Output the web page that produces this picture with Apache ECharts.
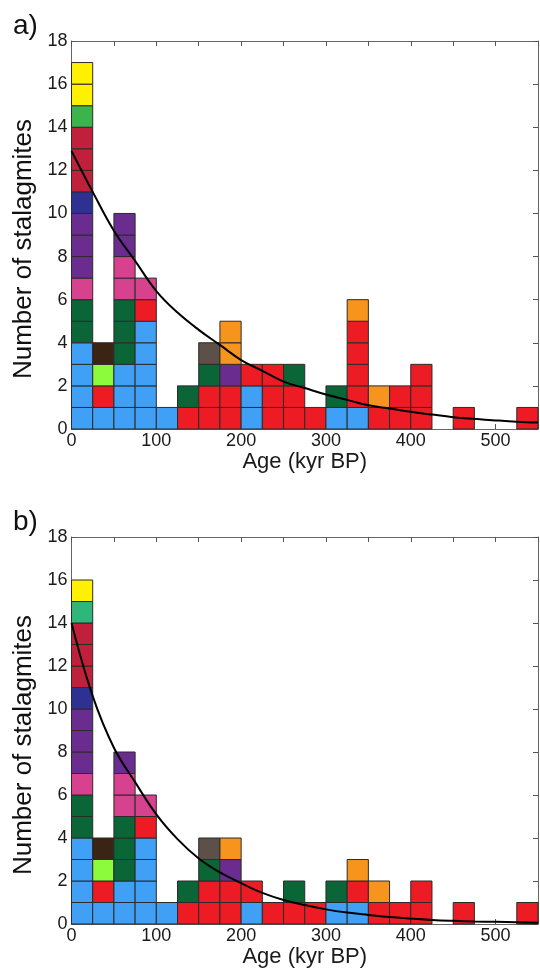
<!DOCTYPE html>
<html>
<head>
<meta charset="utf-8">
<title>Stalagmite ages</title>
<script src="https://cdn.jsdelivr.net/npm/echarts@6/dist/echarts.min.js"></script>
<style>
  html, body { margin: 0; padding: 0; background: #fff; }
  #chart { width: 540px; height: 973px; }
</style>
</head>
<body>
<div id="chart"></div>
<script>
// 25 kyr bins from 0 to 550 kyr BP
const binWidth = 25;
const binStarts = [0, 25, 50, 75, 100, 125, 150, 175, 200, 225, 250, 275,
  300, 325, 350, 375, 400, 425, 450, 475, 500, 525];

// one letter per stalagmite, bottom to top of each bin
const cellsA = ['bbbbggpvvvnccceyy', 'brlk', 'bbbgggppvv', 'bbbbbrp', 'b', 'rg',
  'rrgt', 'rrvoo', 'bbr', 'rrr', 'rrg', 'r', 'bg', 'brrrro', 'ro', 'rr', 'rrr',
  '', 'r', '', '', 'r'];
const cellsB = ['bbbbggpvvvncccfy', 'brlk', 'bbgggppv', 'bbbbrp', 'b', 'rg',
  'rrgt', 'rrvo', 'br', 'r', 'rg', 'r', 'bg', 'bro', 'ro', 'r', 'rr',
  '', 'r', '', '', 'r'];

// exponential fit
const curveAges = [0, 25, 50, 75, 100, 125, 150, 175, 200, 225, 250, 275,
  300, 325, 350, 375, 400, 425, 450, 475, 500, 525, 550];
const fitA = [12.9, 11.0, 9.2, 7.8, 6.4, 5.4, 4.6, 3.9, 3.2, 2.7, 2.2, 1.9,
  1.6, 1.35, 1.1, 0.95, 0.8, 0.67, 0.55, 0.47, 0.4, 0.34, 0.3];
const fitB = [14.0, 10.6, 8.2, 6.6, 5.1, 3.95, 3.05, 2.4, 1.9, 1.45, 1.12, 0.88,
  0.68, 0.53, 0.42, 0.32, 0.25, 0.19, 0.15, 0.12, 0.1, 0.08, 0.06];

const colours = {
  b: '#3fa0f6', r: '#ed1c24', g: '#0a6636', p: '#d6428d', v: '#6a2d8f',
  n: '#2c3192', c: '#c1203b', e: '#3bb54b', f: '#2eb67b', y: '#fff200',
  l: '#8cfb3b', k: '#3c2415', t: '#5d5048', o: '#f7941d'
};

const font = '"Liberation Sans", Arial, sans-serif';
const panels = [
  { cells: cellsA, fit: fitA, top: 41, height: 388, letter: 'a)' },
  { cells: cellsB, fit: fitB, top: 537, height: 387, letter: 'b)' }
];

const grid = [], xAxis = [], yAxis = [], series = [], graphic = [];

panels.forEach((pn, p) => {
  grid.push({ left: 71.5, top: pn.top, width: 466.5, height: pn.height, outerBoundsMode: 'none' });

  const line = { lineStyle: { color: '#666', width: 1 }, onZero: false };
  const tick = { inside: true, length: 5, lineStyle: { color: '#555' } };

  xAxis.push({
    type: 'value', gridIndex: p, position: 'bottom', min: 0, max: 550, interval: 50,
    axisLine: line, axisTick: tick, splitLine: { show: false },
    axisLabel: {
      fontSize: 18, color: '#1a1a1a', margin: 3, fontFamily: font,
      formatter: v => (v % 100 === 0 ? String(v) : '')
    },
    name: 'Age (kyr BP)', nameLocation: 'middle', nameGap: 22, nameMoveOverlap: false,
    nameTextStyle: { fontSize: 22, color: '#1a1a1a', fontFamily: font }
  });
  xAxis.push({
    type: 'value', gridIndex: p, position: 'top', min: 0, max: 550, interval: 50,
    axisLine: line, axisTick: tick, axisLabel: { show: false }, splitLine: { show: false }
  });
  yAxis.push({
    type: 'value', gridIndex: p, position: 'left', min: 0, max: 18, interval: 2,
    axisLine: Object.assign({ show: true }, line), axisTick: Object.assign({ show: true }, tick),
    splitLine: { show: false },
    axisLabel: { fontSize: 18, color: '#1a1a1a', margin: 4, fontFamily: font }
  });
  yAxis.push({
    type: 'value', gridIndex: p, position: 'right', min: 0, max: 18, interval: 2,
    axisLine: Object.assign({ show: true }, line), axisTick: Object.assign({ show: true }, tick),
    splitLine: { show: false }, axisLabel: { show: false }
  });

  // one item per stalagmite: [bin start, level], colour code kept alongside
  const items = [], codes = [];
  pn.cells.forEach((col, i) => {
    for (let k = 0; k < col.length; k++) {
      items.push([binStarts[i], k]);
      codes.push(col[k]);
    }
  });

  series.push({
    type: 'custom', xAxisIndex: 2 * p, yAxisIndex: 2 * p, silent: true,
    encode: { x: 0, y: 1 },
    data: items,
    renderItem: (params, api) => {
      const x0 = api.value(0), lvl = api.value(1);
      const tl = api.coord([x0, lvl + 1]);
      const br = api.coord([x0 + binWidth, lvl]);
      return {
        type: 'rect',
        shape: { x: tl[0], y: tl[1], width: br[0] - tl[0], height: br[1] - tl[1] },
        style: { fill: colours[codes[params.dataIndex]], stroke: '#2b2b2b', lineWidth: 1 }
      };
    }
  });

  series.push({
    type: 'line', xAxisIndex: 2 * p, yAxisIndex: 2 * p, z: 10, silent: true,
    smooth: 0.4, showSymbol: false,
    lineStyle: { color: '#000', width: 2 },
    data: curveAges.map((a, i) => [a, pn.fit[i]])
  });

  graphic.push({
    type: 'text', left: 13, top: pn.top - 29,
    style: { text: pn.letter, font: '28px ' + font, fill: '#111' }
  });
  graphic.push({
    type: 'text', x: 24, y: pn.top + 208, rotation: Math.PI / 2,
    style: {
      text: 'Number of stalagmites', font: '26px ' + font, fill: '#111',
      textAlign: 'center', textVerticalAlign: 'middle'
    }
  });
});

const chart = echarts.init(document.getElementById('chart'), null, { renderer: 'canvas' });
chart.setOption({
  animation: false,
  backgroundColor: '#fff',
  textStyle: { fontFamily: font },
  grid, xAxis, yAxis, series, graphic
});
</script>
</body>
</html>
